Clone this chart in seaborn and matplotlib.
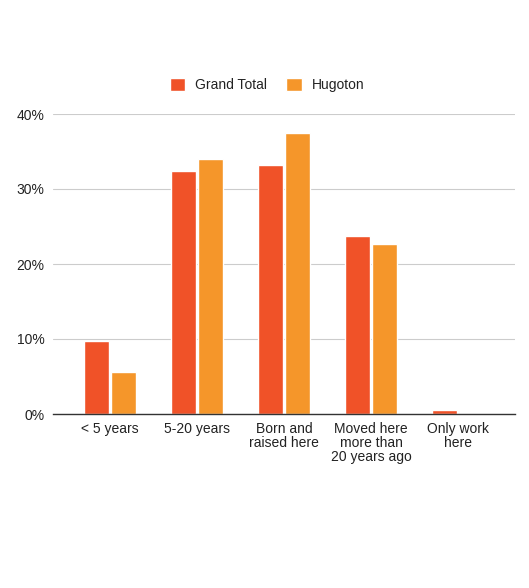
import matplotlib
matplotlib.use("Agg")
import matplotlib.pyplot as plt
import seaborn as sns
import pandas as pd
from matplotlib.ticker import FuncFormatter

categories = ["< 5 years", "5-20 years", "Born and\nraised here",
              "Moved here\nmore than\n20 years ago", "Only work\nhere"]
grand_total = [9.8, 32.4, 33.2, 23.7, 0.5]
hugoton = [5.6, 34.0, 37.5, 22.7, 0.0]
series = ["Grand Total", "Hugoton"]
colors = ["#f05228", "#f5962a"]

df = pd.DataFrame({
    "cat": categories * 2,
    "val": grand_total + hugoton,
    "series": [series[0]] * len(categories) + [series[1]] * len(categories),
})

sns.set_style("white")
plt.rcParams["font.family"] = ["Liberation Sans", "DejaVu Sans"]

fig = plt.figure(figsize=(5.29, 5.88), dpi=100)
ax = fig.add_axes([53 / 529, 1 - 414 / 588, (515 - 53) / 529, 300 / 588])

sns.barplot(data=df, x="cat", y="val", hue="series", palette=colors,
            width=0.62, gap=0.1, ax=ax, legend=True, saturation=1)

ax.set_xlim(-0.655, 4.655)
ax.set_ylim(0, 40)
ax.set_yticks([0, 10, 20, 30, 40])
ax.yaxis.set_major_formatter(FuncFormatter(lambda v, p: f"{int(v)}%"))
ax.grid(axis="y", color="#cccccc", linewidth=0.8)
ax.set_axisbelow(True)
for s in ["top", "right", "left"]:
    ax.spines[s].set_visible(False)
ax.spines["bottom"].set_color("#333333")
ax.spines["bottom"].set_linewidth(1)
ax.set_xlabel("")
ax.set_ylabel("")
ax.tick_params(axis="both", length=0, labelsize=10, labelcolor="#222222")
ax.tick_params(axis="y", pad=6)
ax.tick_params(axis="x", pad=6)
for lbl in ax.get_xticklabels():
    lbl.set_linespacing(1.0)

leg = ax.legend(loc="center", bbox_to_anchor=(267 / 529, 1 - 85 / 588),
                bbox_transform=fig.transFigure, ncol=2, frameon=False,
                fontsize=10, handlelength=1.1, handleheight=1.1,
                columnspacing=1.4, handletextpad=0.7)
for t in leg.get_texts():
    t.set_color("#222222")

fig.savefig("out.png", dpi=100)
